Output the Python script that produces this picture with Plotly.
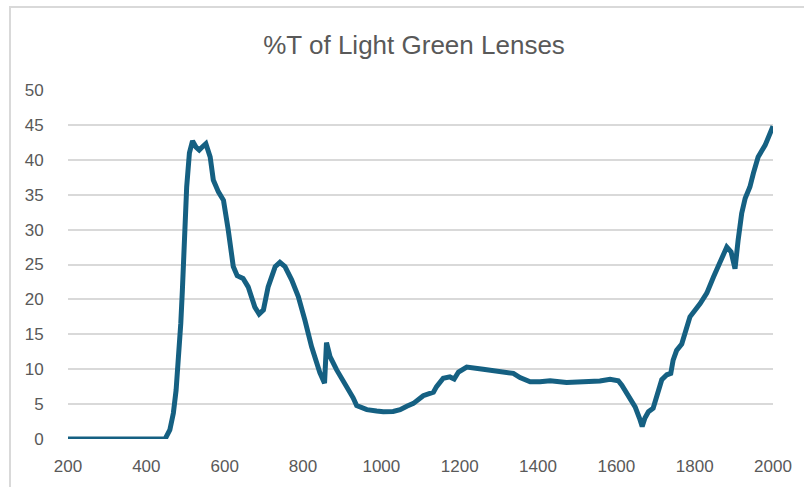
import plotly.graph_objects as go

wavelength_nm = [200, 300, 400, 448, 460, 469, 476, 482, 488, 492, 499, 503, 510, 518,
                 527, 535, 544, 552, 563, 571, 584, 597, 609, 622, 632, 647, 660, 677, 688, 699, 711,
                 729, 741, 754, 771, 788, 805, 822, 843, 855, 860, 869, 886, 907, 928, 937,
                 954, 963, 988, 1005, 1030, 1048, 1065, 1082, 1107, 1133, 1141, 1158, 1175,
                 1186, 1197, 1218, 1260, 1303, 1337, 1354, 1380, 1405, 1431, 1473, 1524,
                 1558, 1584, 1605, 1614, 1631, 1648, 1659, 1666, 1673, 1682, 1694, 1707,
                 1716, 1729, 1739, 1745, 1754, 1767, 1780, 1788, 1814, 1831, 1848, 1865,
                 1882, 1893, 1903, 1911, 1920, 1929, 1941, 1950, 1962, 1980, 2000]
transmittance = [0, 0, 0, 0, 1.3, 3.7, 7.0, 10.9, 16.6, 21.3, 31.4, 36.1, 41.0, 42.7,
                 41.8, 41.4, 41.9, 42.3, 40.4, 37.1, 35.4, 34.2, 30.0, 24.7, 23.4, 23.0, 21.8, 18.9, 17.9,
                 18.5, 21.8, 24.7, 25.3, 24.7, 22.8, 20.4, 17.0, 13.2, 9.5, 8.0, 13.8, 11.8,
                 9.9, 8.0, 5.9, 4.8, 4.4, 4.2, 4.0, 3.9, 3.95, 4.2, 4.7, 5.1, 6.2, 6.7, 7.5,
                 8.7, 8.9, 8.6, 9.6, 10.3, 10.0, 9.6, 9.4, 8.8, 8.2, 8.2, 8.35, 8.1, 8.2, 8.3,
                 8.55, 8.35, 7.7, 6.3, 4.6, 3.0, 1.8, 3.0, 3.9, 4.4, 6.5, 8.5, 9.2, 9.4, 11.3,
                 12.7, 13.6, 16.1, 17.5, 19.4, 20.9, 23.2, 25.4, 27.5, 26.8, 24.4, 28.5, 32.3,
                 34.5, 36.1, 38.1, 40.4, 42.1, 44.8]

x_ticks = [200, 400, 600, 800, 1000, 1200, 1400, 1600, 1800, 2000]
y_ticks = [0, 5, 10, 15, 20, 25, 30, 35, 40, 45, 50]
title_text = "%T of Light Green Lenses"

font_family = "Liberation Sans Narrow, Arial Narrow, Liberation Sans, Arial, sans-serif"
text_color = "#595959"
grid_color = "#d9d9d9"

fig = go.Figure()
fig.add_trace(go.Scatter(
    x=wavelength_nm, y=transmittance, mode="lines",
    line=dict(color="#156082", width=5),
    showlegend=False, hoverinfo="x+y",
))

fig.update_layout(
    width=804, height=487,
    margin=dict(l=68, r=31, t=90, b=48),
    paper_bgcolor="white", plot_bgcolor="white",
    font=dict(family=font_family, color=text_color, size=16),
    title=dict(text=title_text, x=0.515, xanchor="center", y=0.907, yanchor="middle",
               font=dict(family=font_family, size=26, color=text_color)),
    xaxis=dict(range=[200, 2000], tickmode="array", tickvals=x_ticks,
               showgrid=False, zeroline=False, showline=False,
               ticks="outside", ticklen=12, tickcolor="rgba(0,0,0,0)",
               tickfont=dict(size=17, color=text_color)),
    yaxis=dict(range=[0, 50], tickmode="array", tickvals=y_ticks,
               showgrid=True, gridcolor=grid_color, gridwidth=1.5,
               zeroline=False, showline=False,
               ticks="outside", ticklen=20, tickcolor="rgba(0,0,0,0)",
               tickfont=dict(size=17, color=text_color)),
)

# outer chart border (light gray frame like the source chart area)
fig.add_shape(type="rect", xref="paper", yref="paper",
              x0=(10 - 68) / 705, x1=(812 - 68) / 705,
              y0=(439 - 495) / 349, y1=(439 - 7) / 349,
              line=dict(color=grid_color, width=2), fillcolor="rgba(0,0,0,0)", layer="below")

fig.write_html("out.html", config={"displayModeBar": False},
               post_script="document.body.style.margin='0';")
